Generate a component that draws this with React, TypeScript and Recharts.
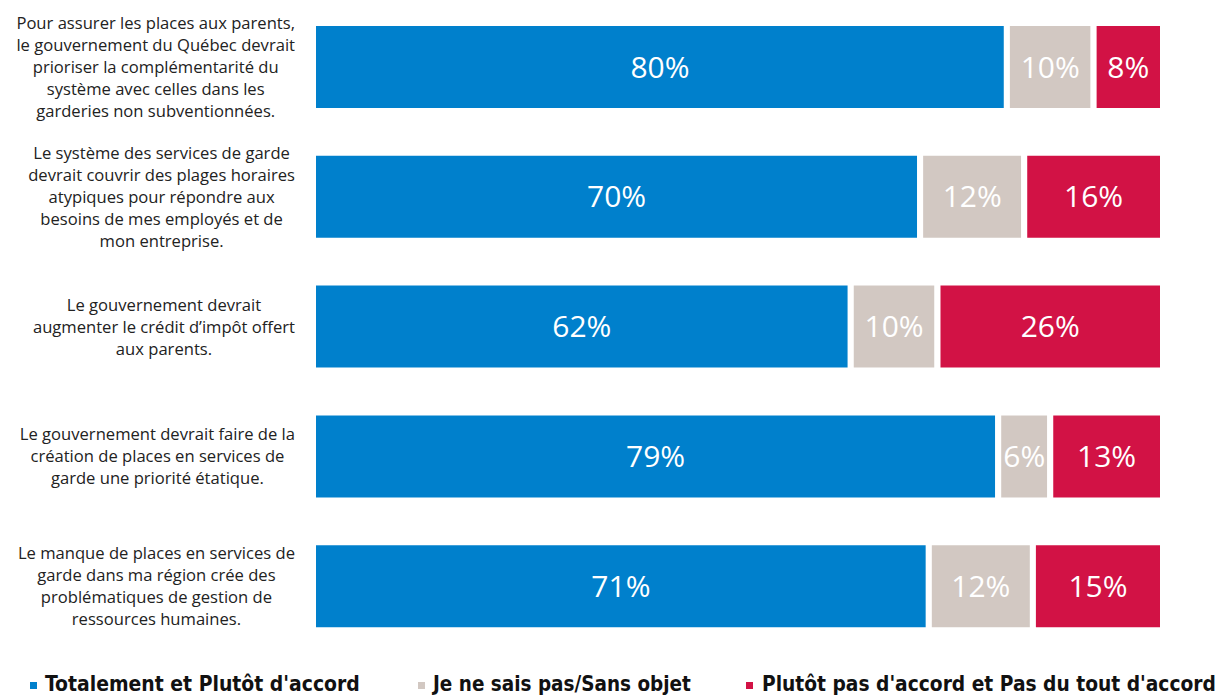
import React from "react";
import { Bar, BarChart, LabelList, Legend, XAxis, YAxis } from "recharts";

const categories = [
  "Pour assurer les places aux parents,\nle gouvernement du Québec devrait\nprioriser la complémentarité du\nsystème avec celles dans les\ngarderies non subventionnées.",
  "Le système des services de garde\ndevrait couvrir des plages horaires\natypiques pour répondre aux\nbesoins de mes employés et de\nmon entreprise.",
  "Le gouvernement devrait\naugmenter le crédit d’impôt offert\naux parents.",
  "Le gouvernement devrait faire de la\ncréation de places en services de\ngarde une priorité étatique.",
  "Le manque de places en services de\ngarde dans ma région crée des\nproblématiques de gestion de\nressources humaines.",
];
const accord = [80, 70, 62, 79, 71];
const neSaisPas = [10, 12, 10, 6, 12];
const desaccord = [8, 16, 26, 13, 15];

const seriesNames = [
  "Totalement et Plutôt d'accord",
  "Je ne sais pas/Sans objet",
  "Plutôt pas d'accord et Pas du tout d'accord",
];
const colors = ["#0080CC", "#D2C8C2", "#D21245"];

const data = categories.map((label, i) => ({
  label,
  accord: accord[i],
  nsp: neSaisPas[i],
  desaccord: desaccord[i],
}));

const LABEL_SIZE = 16.6;
let ctx: CanvasRenderingContext2D | null = null;
const measure = (s: string, font: string) => {
  if (!ctx) ctx = document.createElement("canvas").getContext("2d");
  if (!ctx) return s.length * 7.6;
  ctx.font = font;
  return ctx.measureText(s).width;
};

const CategoryTick = (props: any) => {
  const { y, payload } = props;
  const lines: string[] = String(payload.value).split("\n");
  const maxW = Math.max(...lines.map((l) => measure(l, `${LABEL_SIZE}px 'Open Sans'`)));
  const cx = 295 - maxW / 2;
  const lh = 22;
  const start = y - ((lines.length - 1) * lh) / 2 - 1;
  return (
    <text
      x={cx}
      y={start}
      textAnchor="middle"
      fill="#222"
      fontFamily="'Open Sans', sans-serif"
      fontSize={LABEL_SIZE}
      dominantBaseline="central"
    >
      {lines.map((l, i) => (
        <tspan key={i} x={cx} y={start + i * lh}>
          {l}
        </tspan>
      ))}
    </text>
  );
};

const legendPos = [
  { sq: 30, tx: 45, tw: 315 },
  { sq: 418, tx: 433, tw: 258 },
  { sq: 746, tx: 762, tw: 454 },
];
const LEGEND_FONT = "bold 22px 'DejaVu Sans Condensed'";

const renderLegend = () => (
  <svg width={1227} height={38} style={{ display: "block" }}>
    {seriesNames.map((n, i) => {
      const w = measure(n, LEGEND_FONT);
      const sx = legendPos[i].tw / w;
      return (
        <g key={n}>
          <rect x={legendPos[i].sq} y={22} width={7} height={7} fill={colors[i]} />
          <text
            transform={`translate(${legendPos[i].tx},31) scale(${sx},1)`}
            x={0}
            y={0}
            fontFamily="'DejaVu Sans Condensed', sans-serif"
            fontWeight="bold"
            fontSize={22}
            fill="#111"
          >
            {n}
          </text>
        </g>
      );
    })}
  </svg>
);

const valueLabel = { fill: "#fff", fontSize: 30, fontFamily: "'Open Sans', sans-serif" };

export default function App() {
  return (
    <div style={{ position: "absolute", left: 0, top: 0, background: "#fff" }}>
      <BarChart
        width={1227}
        height={698}
        data={data}
        layout="vertical"
        margin={{ top: 2, right: 64, bottom: 9, left: 0 }}
        barSize={88}
      >
        <XAxis type="number" domain={[0, 98]} hide />
        <YAxis
          type="category"
          dataKey="label"
          width={313}
          tickLine={false}
          axisLine={false}
          interval={0}
          tick={<CategoryTick />}
        />
        <Legend
          content={renderLegend}
          wrapperStyle={{ left: 0, top: 660, width: 1227, height: 38 }}
        />
        <Bar dataKey="accord" name={seriesNames[0]} stackId="a" fill={colors[0]} stroke="#fff" strokeWidth={6} isAnimationActive={false}>
          <LabelList dataKey="accord" position="center" formatter={(v: any) => `${v}%`} style={valueLabel} />
        </Bar>
        <Bar dataKey="nsp" name={seriesNames[1]} stackId="a" fill={colors[1]} stroke="#fff" strokeWidth={6} isAnimationActive={false}>
          <LabelList dataKey="nsp" position="center" formatter={(v: any) => `${v}%`} style={valueLabel} />
        </Bar>
        <Bar dataKey="desaccord" name={seriesNames[2]} stackId="a" fill={colors[2]} stroke="#fff" strokeWidth={6} isAnimationActive={false}>
          <LabelList dataKey="desaccord" position="center" formatter={(v: any) => `${v}%`} style={valueLabel} />
        </Bar>
      </BarChart>
    </div>
  );
}
